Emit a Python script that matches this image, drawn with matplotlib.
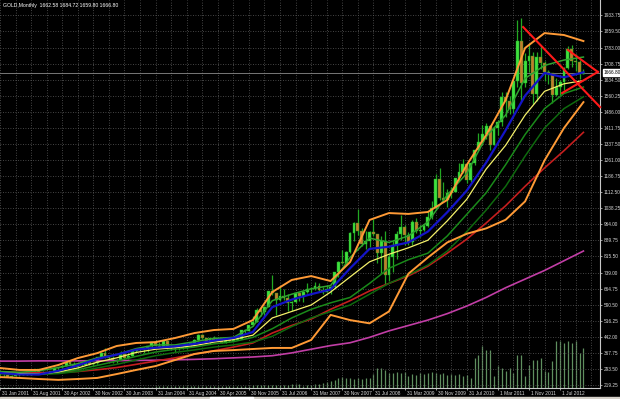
import numpy as np
import matplotlib.pyplot as plt
import matplotlib.transforms as mtransforms
from matplotlib.patches import Rectangle

# GOLD monthly bars, oldest first (the feed has a few doubled months before 2006)
opens = [
    272.5, 265.6, 266.7, 257.7, 263.2, 264.0, 266.5, 270.6, 265.5, 273.0, 293.1, 278.8, 275.5,
    278.8, 282.3, 296.9, 301.4, 308.2, 326.6, 318.5, 304.7, 312.8, 314.0, 323.7, 316.9, 319.1,
    347.2, 367.8, 347.5, 344.0, 334.9, 336.8, 361.4, 346.0, 354.8, 375.6, 384.0, 388.0, 386.3, 398.0,
    416.3, 399.8, 395.9, 423.7, 395.0, 388.5, 393.3, 395.8, 391.4, 407.3, 415.7, 429.0, 452.5,
    438.0, 422.2, 435.5, 427.5, 435.7, 414.5, 437.1, 425.0, 429.0, 433.3, 473.3, 470.8, 495.7,
    513.0, 568.8, 556.0, 582.0, 654.5, 643.5, 613.5, 632.5, 623.5, 599.3, 603.8, 646.7,
    632.0, 650.5, 664.2, 661.8, 677.0, 659.1, 650.5, 665.5, 672.0, 743.0, 789.5, 783.5,
    833.8, 923.3, 971.5, 933.5, 871.0, 885.8, 930.3, 918.0, 833.0, 884.5, 730.8, 814.5,
    869.8, 919.5, 952.0, 916.5, 883.3, 975.5, 934.5, 939.0, 955.5, 995.8, 1040.0, 1175.8,
    1087.5, 1078.5, 1109.5, 1115.5, 1179.3, 1207.5, 1244.0, 1169.0, 1246.0, 1307.5, 1346.8, 1383.5,
    1421.0, 1332.8, 1409.3, 1439.0, 1556.0, 1536.5, 1500.3, 1628.5, 1813.5, 1620.0, 1722.0, 1746.0,
    1565.8, 1740.0, 1711.3, 1668.0, 1663.0, 1562.0, 1598.5, 1622.0, 1690.0, 1776.0, 1719.0, 1714.0,
    1662.58,
]
highs = [
    272.9, 269.0, 268.0, 265.0, 266.0, 273.0, 275.5, 271.0, 279.0, 294.0, 293.5, 282.5, 281.0,
    285.0, 303.0, 304.0, 310.0, 328.0, 332.0, 326.0, 315.0, 316.0, 325.0, 325.0, 323.0, 349.0,
    372.0, 389.0, 352.0, 354.0, 342.0, 375.0, 371.0, 366.0, 378.0, 390.0, 391.0, 391.0, 400.0, 417.0,
    430.0, 417.0, 427.0, 430.0, 397.0, 396.0, 398.0, 409.0, 415.0, 420.0, 431.0, 456.0, 456.5,
    438.5, 437.0, 446.0, 438.0, 436.0, 443.0, 438.0, 431.0, 448.0, 474.0, 479.0, 497.0, 540.0,
    574.0, 574.0, 587.0, 655.0, 730.0, 647.0, 677.0, 663.0, 640.0, 610.0, 650.0, 650.0,
    656.0, 690.0, 673.0, 695.0, 690.0, 673.0, 683.0, 676.0, 745.0, 795.0, 846.0, 840.0,
    930.0, 976.0, 1033.0, 945.0, 934.0, 933.0, 989.0, 920.0, 910.0, 935.0, 825.0, 888.0,
    935.0, 1007.0, 959.0, 927.0, 982.0, 991.0, 960.0, 963.0, 1025.0, 1071.0, 1195.0, 1227.0,
    1162.0, 1128.0, 1136.0, 1180.0, 1249.0, 1265.0, 1245.0, 1248.0, 1310.0, 1388.0, 1425.0, 1432.0,
    1424.0, 1412.0, 1447.0, 1575.0, 1577.0, 1557.0, 1632.0, 1912.0, 1921.0, 1760.0, 1804.0, 1764.0,
    1763.0, 1791.0, 1720.0, 1679.0, 1667.0, 1641.0, 1632.0, 1693.0, 1790.0, 1796.0, 1755.0, 1725.0,
    1684.72,
]
lows = [
    262.8, 255.5, 255.8, 253.8, 261.0, 262.5, 265.5, 264.0, 264.5, 270.0, 276.0, 270.0, 271.0,
    276.0, 281.5, 289.5, 300.0, 306.5, 314.0, 301.5, 300.0, 309.0, 311.0, 312.5, 314.0, 316.5,
    343.0, 344.5, 340.0, 322.0, 320.0, 334.0, 342.0, 341.0, 353.0, 368.0, 378.0, 366.0, 373.0, 397.0,
    398.0, 390.0, 391.0, 387.0, 385.0, 371.0, 383.0, 387.0, 386.0, 398.0, 411.0, 423.0, 431.0,
    418.0, 411.0, 424.0, 422.0, 414.0, 413.0, 417.0, 422.0, 428.0, 432.0, 456.0, 468.0, 491.0,
    513.0, 538.0, 537.0, 580.0, 636.0, 543.0, 610.0, 611.0, 560.0, 561.0, 601.0, 610.0,
    602.0, 644.0, 636.0, 661.0, 650.0, 641.0, 649.0, 641.0, 669.0, 722.0, 778.0, 780.0,
    833.0, 885.0, 915.0, 865.0, 849.0, 861.0, 910.0, 786.0, 740.0, 681.0, 700.0, 745.0,
    801.0, 890.0, 866.0, 866.0, 867.0, 922.0, 907.0, 932.0, 950.0, 990.0, 1030.0, 1075.0,
    1075.0, 1045.0, 1088.0, 1114.0, 1164.0, 1200.0, 1157.0, 1158.0, 1240.0, 1306.0, 1330.0, 1360.0,
    1310.0, 1330.0, 1380.0, 1420.0, 1462.0, 1477.0, 1480.0, 1600.0, 1535.0, 1600.0, 1670.0, 1523.0,
    1535.0, 1685.0, 1627.0, 1613.0, 1527.0, 1557.0, 1564.0, 1587.0, 1685.0, 1693.0, 1672.0, 1636.0,
    1659.80,
]
closes = [
    265.6, 266.7, 257.7, 263.2, 264.0, 266.5, 270.6, 265.5, 273.0, 293.1, 278.8, 275.5, 278.8,
    282.3, 296.9, 301.4, 308.2, 326.6, 318.5, 304.7, 312.8, 314.0, 323.7, 316.9, 319.1, 347.2,
    367.8, 347.5, 344.0, 334.9, 336.8, 361.4, 346.0, 354.8, 375.6, 384.0, 388.0, 386.3, 398.0, 416.3,
    399.8, 395.9, 423.7, 395.0, 388.5, 393.3, 395.8, 391.4, 407.3, 415.7, 429.0, 452.5, 438.0,
    422.2, 435.5, 427.5, 435.7, 414.5, 437.1, 425.0, 429.0, 433.3, 473.3, 470.8, 495.7, 513.0,
    568.8, 556.0, 582.0, 654.5, 643.5, 613.5, 632.5, 623.5, 599.3, 603.8, 646.7, 632.0,
    650.5, 664.2, 661.8, 677.0, 659.1, 650.5, 665.5, 672.0, 743.0, 789.5, 783.5, 833.8,
    923.3, 971.5, 933.5, 871.0, 885.8, 930.3, 918.0, 833.0, 884.5, 730.8, 814.5, 869.8,
    919.5, 952.0, 916.5, 883.3, 975.5, 934.5, 939.0, 955.5, 995.8, 1040.0, 1175.8, 1087.5,
    1078.5, 1109.5, 1115.5, 1179.3, 1207.5, 1244.0, 1169.0, 1246.0, 1307.5, 1346.8, 1383.5, 1421.0,
    1332.8, 1409.3, 1439.0, 1556.0, 1536.5, 1500.3, 1628.5, 1813.5, 1620.0, 1722.0, 1746.0, 1565.8,
    1740.0, 1711.3, 1668.0, 1663.0, 1562.0, 1598.5, 1622.0, 1690.0, 1776.0, 1719.0, 1714.0, 1662.6,
    1666.80,
]
volumes = (
    [1] * 40 + [2] * 25 + [3] * 10 + [4] * 3
    + [2, 3, 3, 4, 4, 5, 6, 7, 8, 10, 11, 10, 10, 9, 10, 9, 10, 10, 14, 20, 20, 18]
    + [15, 15, 16, 15, 16, 12, 14, 13, 15, 14, 15, 16, 15, 14, 15, 13, 14, 13, 14, 12, 13]
    + [10, 30, 33, 42, 38, 38, 12, 22, 20, 17, 20, 15, 33, 33, 12, 23, 28, 28, 30, 17,
       16, 27, 47, 47, 45, 47, 45, 47, 35, 40]
)

date_labels = ['31 Jan 2001', '31 Aug 2001', '30 Apr 2002', '30 Nov 2002', '30 Jun 2003',
               '31 Jan 2004', '31 Aug 2004', '30 Apr 2005', '30 Nov 2005', '31 Jul 2006',
               '31 Mar 2007', '30 Nov 2007', '31 Jul 2008', '31 Mar 2009', '30 Nov 2009',
               '31 Jul 2010', '1 Mar 2011', '1 Nov 2011', '1 Jul 2012']
price_labels = [219.25, 293.50, 367.75, 442.00, 516.25, 590.50, 664.75, 739.00, 815.50,
                889.75, 964.00, 1038.25, 1112.50, 1186.75, 1261.00, 1337.50, 1411.75,
                1486.00, 1560.25, 1634.50, 1708.75, 1783.00, 1859.50, 1933.75]

# indicator lines every 5 bars
ind_idx = np.arange(0, 151, 5)
bb_upper = [298, 289, 289, 312, 344, 367, 400, 414, 418, 437, 460, 474, 479, 520, 650, 706,
            724, 701, 789, 984, 1016, 1012, 1021, 1077, 1239, 1378, 1540, 1781, 1850, 1841, 1813]
bb_lower = [256, 252, 247, 243, 247, 252, 270, 289, 307, 335, 363, 377, 381, 386, 391, 391,
            428, 544, 520, 505, 560, 735, 810, 880, 920, 945, 985, 1070, 1260, 1410, 1530]
ma_blue = [275, 268, 268, 285, 310, 340, 360, 383, 392, 398, 410, 425, 437, 465, 580, 615,
           640, 662, 760, 850, 860, 880, 930, 1020, 1120, 1250, 1400, 1560, 1665, 1645, 1668]
ma_yellow = [278, 272, 270, 280, 298, 325, 345, 370, 385, 392, 402, 418, 430, 450, 530, 560,
             590, 650, 720, 790, 825, 855, 890, 980, 1080, 1220, 1330, 1470, 1580, 1615, 1630]
ma_green = [282, 278, 285, 300, 318, 345, 360, 388, 405, 405, 420, 435, 440, 490, 610, 640,
            665, 680, 810, 900, 880, 910, 975, 1100, 1200, 1370, 1470, 1640, 1700, 1725, 1739]
ma_dkgreen = [275, 272, 270, 278, 290, 310, 330, 352, 372, 385, 395, 410, 420, 440, 480, 530,
              570, 600, 625, 690, 760, 800, 830, 910, 1010, 1110, 1240, 1380, 1500, 1570, 1600]
ma_dkgreen2 = [272, 270, 268, 272, 282, 298, 315, 335, 355, 370, 382, 395, 405, 418, 445, 490,
               530, 560, 590, 640, 690, 730, 775, 840, 930, 1030, 1140, 1280, 1410, 1500, 1555]
ma_red = [280, 277, 276, 278, 282, 290, 300, 315, 330, 345, 362, 378, 395, 414, 460, 495,
          525, 570, 610, 655, 690, 725, 770, 830, 895, 970, 1050, 1140, 1225, 1305, 1390]
ma_magenta = [330, 330, 331, 331, 331, 332, 332, 333, 334, 336, 338, 341, 345, 349, 355, 368,
              385, 402, 415, 440, 470, 495, 520, 550, 585, 625, 670, 710, 750, 795, 840]

# hand-drawn trend lines (bar index, price)
trend_down = ([134.5, 154.3], [1878, 1507])
tri_top = ([146.0, 153.7], [1772, 1670])
tri_bottom = ([144.5, 153.7], [1572, 1670])

title = 'GOLD,Monthly  1662.58 1684.72 1659.80 1666.80'
last_price = closes[-1]

plt.rcParams['font.family'] = ['Liberation Sans', 'DejaVu Sans']
W, H = 620, 399
fig = plt.figure(figsize=(W / 100, H / 100), dpi=100, facecolor='black')
rect = [0, 11 / H, 600 / W, 388 / H]

# volumes sit underneath the price panel
axv = fig.add_axes(rect, facecolor='black')
ax = fig.add_axes(rect, sharex=axv)
ax.patch.set_visible(False)

x = np.arange(len(closes))
axv.vlines(x, 0, volumes, color='#5f8f5f', lw=0.9)
axv.set_ylim(0, 388)
axv.axis('off')

o = np.array(opens)
c = np.array(closes)
up = c >= o
wick = '#22a822'
ax.vlines(x, lows, highs, color=wick, lw=0.9, zorder=3)
ax.bar(x[up], (c - o)[up], bottom=o[up], width=0.74, color='#3fe03f',
       edgecolor=wick, lw=0.3, zorder=4)
ax.bar(x[~up], (o - c)[~up], bottom=c[~up], width=0.74, color='#c47a2c',
       edgecolor=wick, lw=0.3, zorder=4)

ax.axhline(last_price, color='#8a8a8a', lw=0.6, zorder=2)

ax.plot(ind_idx, ma_magenta, color='#c23ea6', lw=1.2, zorder=5)
ax.plot(ind_idx, ma_red, color='#c41e1e', lw=1.2, zorder=5)
ax.plot(ind_idx, ma_dkgreen2, color='#0e6a0e', lw=1.1, zorder=5)
ax.plot(ind_idx, ma_dkgreen, color='#1a8a1a', lw=1.1, zorder=5)
ax.plot(ind_idx, ma_yellow, color='#f4f06a', lw=0.9, zorder=6)
ax.plot(ind_idx, ma_green, color='#2fa42f', lw=1.1, zorder=6)
ax.plot(ind_idx, ma_blue, color='#1414c8', lw=1.6, zorder=6)
ax.plot(ind_idx, bb_upper, color='#ff9a36', lw=1.4, zorder=7)
ax.plot(ind_idx, bb_lower, color='#ff9a36', lw=1.4, zorder=7)

for tx, ty in (trend_down, tri_top, tri_bottom):
    ax.plot(tx, ty, color='#ff1a1a', lw=1.5, zorder=8, clip_on=False)

ax.set_xlim(0.257, 154.26)
ax.set_ylim(205.35, 2003.3)

# grid and scales
ax.set_xticks(np.arange(0, 8 * len(date_labels), 8))
ax.set_xticks(np.arange(0, 155, 4), minor=True)
ax.set_xticklabels(date_labels)
ax.set_yticks(price_labels)
ax.set_yticklabels(['%.2f' % p for p in price_labels])
ax.yaxis.tick_right()
grid_kw = dict(color='#5c5c5c', ls=(0, (1, 2)), lw=0.6)
ax.grid(True, which='both', axis='x', **grid_kw)
ax.grid(True, which='major', axis='y', **grid_kw)
ax.set_axisbelow(True)

ax.tick_params(axis='x', which='major', length=1.5, pad=0.4, width=0.5,
               colors='#d8d8d8', labelsize=3.5)
ax.tick_params(axis='x', which='minor', length=0)
ax.tick_params(axis='y', length=1.5, pad=1.0, width=0.5, colors='#d8d8d8', labelsize=3.4)
shift = mtransforms.ScaledTranslation(2 / 100, 0, fig.dpi_scale_trans)
for lab in ax.get_xticklabels():
    lab.set_horizontalalignment('left')
    lab.set_transform(lab.get_transform() + shift)

for side in ('left', 'top'):
    ax.spines[side].set_visible(False)
for side in ('right', 'bottom'):
    ax.spines[side].set_color('#c8c8c8')
    ax.spines[side].set_linewidth(0.8)

# current price tag on the scale
tag = mtransforms.blended_transform_factory(ax.transAxes, ax.transData)
ax.text(1.006, last_price, '%.2f' % last_price, transform=tag, ha='left', va='center',
        fontsize=3.4, color='black', zorder=10,
        bbox=dict(boxstyle='square,pad=0.2', fc='white', ec='white'))

fig.text(3 / W, 1 - 5.5 / H, title, color='white', fontsize=3.7, va='center', ha='left')

# terminal tab strip under the chart
fig.add_artist(Rectangle((0, 0), 1, 2.5 / H, transform=fig.transFigure,
                         color='#d4d0c8', zorder=20))
fig.add_artist(Rectangle((210 / W, 0), 43 / W, 2.5 / H, transform=fig.transFigure,
                         color='white', zorder=21))

fig.savefig('out.png', dpi=100, facecolor='black')
